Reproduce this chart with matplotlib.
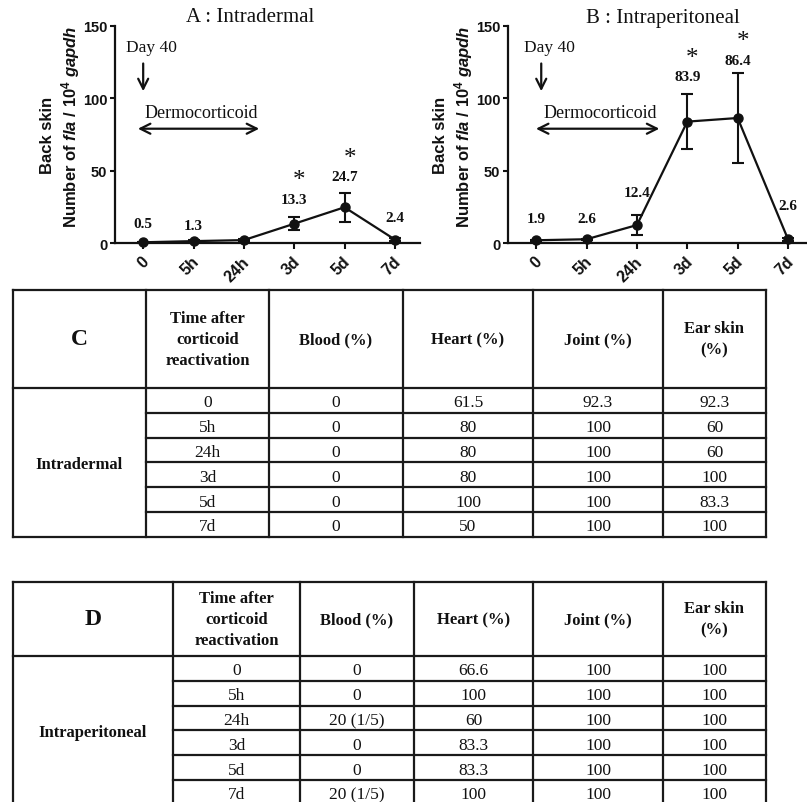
import matplotlib
matplotlib.use("Agg")
import matplotlib.pyplot as plt

# ---------------- data ----------------
time_labels = ["0", "5h", "24h", "3d", "5d", "7d"]

a_values = [0.5, 1.3, 2.0, 13.3, 24.7, 2.4]
a_errors = [0.3, 0.5, 0.8, 4.5, 10.0, 1.0]
a_value_text = ["0.5", "1.3", "", "13.3", "24.7", "2.4"]
a_signif = [False, False, False, True, True, False]

b_values = [1.9, 2.6, 12.4, 83.9, 86.4, 2.6]
b_errors = [0.5, 0.5, 7.0, 19.0, 31.0, 1.0]
b_value_text = ["1.9", "2.6", "12.4", "83.9", "86.4", "2.6"]
b_signif = [False, False, False, True, True, False]

yticks = [0, 50, 100, 150]

table_columns = ["Time after\ncorticoid\nreactivation", "Blood (%)", "Heart (%)",
                 "Joint (%)", "Ear skin\n(%)"]

c_blood = ["0", "0", "0", "0", "0", "0"]
c_heart = ["61.5", "80", "80", "80", "100", "50"]
c_joint = ["92.3", "100", "100", "100", "100", "100"]
c_ear = ["92.3", "60", "60", "100", "83.3", "100"]

d_blood = ["0", "0", "20 (1/5)", "0", "0", "20 (1/5)"]
d_heart = ["66.6", "100", "60", "83.3", "83.3", "100"]
d_joint = ["100", "100", "100", "100", "100", "100"]
d_ear = ["100", "100", "100", "100", "100", "100"]

# ---------------- style ----------------
plt.rcParams["mathtext.fontset"] = "custom"
plt.rcParams["mathtext.rm"] = "Liberation Sans:bold"
plt.rcParams["mathtext.it"] = "Liberation Sans:italic:bold"
plt.rcParams["mathtext.bf"] = "Liberation Sans:bold"

W, H = 807, 803
fig = plt.figure(figsize=(W / 100, H / 100), dpi=100)
SANS = "Liberation Sans"
SERIF = "Liberation Serif"
INK = "#111111"


def px_axes(left, top, right, bottom):
    return fig.add_axes([left / W, 1 - bottom / H, (right - left) / W, (bottom - top) / H])


def draw_chart(ax, values, errors, value_text, signif, title, label_dy,
               day_x, derm_x0, derm_x1, xmax, title_x):
    x = list(range(len(values)))
    ax.errorbar(x, values, yerr=errors, color=INK, lw=1.6, marker="o", ms=6.5,
                capsize=4.5, elinewidth=1.5, capthick=1.5, clip_on=False, zorder=3)
    ax.set_xlim(-0.56, xmax)
    ax.set_ylim(0, 150)
    ax.set_yticks(yticks)
    ax.set_xticks(x)
    ax.set_xticklabels([])
    for xi, lab in zip(x, time_labels):
        ax.annotate(lab, xy=(xi, 0), xycoords="data", xytext=(-1.5, -7.5),
                    textcoords="offset points", rotation=45, ha="right", va="top",
                    rotation_mode="anchor", fontsize=11.5, fontweight="bold",
                    family=SANS, color=INK)
    for lab in ax.get_yticklabels():
        lab.set_fontfamily(SANS)
        lab.set_fontweight("bold")
        lab.set_fontsize(10.5)
    ax.spines["top"].set_visible(False)
    ax.spines["right"].set_visible(False)
    for s in ("left", "bottom"):
        ax.spines[s].set_linewidth(1.6)
        ax.spines[s].set_color(INK)
    ax.tick_params(axis="y", length=3.5, width=1.5, pad=2, colors=INK)
    ax.tick_params(axis="x", length=4.5, width=1.5, colors=INK)

    for xi, v, e, t, s, dy in zip(x, values, errors, value_text, signif, label_dy):
        ly = v + e + dy
        if t:
            ax.text(xi, ly, t, ha="center", va="center", fontsize=11,
                    fontweight="bold", family=SERIF, color=INK)
        if s:
            ax.text(xi + 0.1, ly + 13, "*", ha="center", va="center", fontsize=18,
                    family=SERIF, color=INK)

    ax.text(day_x + 0.17, 135.5, "Day 40", ha="center", va="center", fontsize=12.5,
            family=SERIF, color=INK)
    ax.annotate("", xy=(day_x, 103), xytext=(day_x, 126),
                arrowprops=dict(arrowstyle="->", lw=1.6, color=INK, mutation_scale=18))
    ax.text((derm_x0 + derm_x1) / 2 + 0.05, 90.5, "Dermocorticoid", ha="center",
            va="center", fontsize=13, family=SERIF, color=INK)
    ax.annotate("", xy=(derm_x0, 79), xytext=(derm_x1, 79),
                arrowprops=dict(arrowstyle="<->", lw=1.6, color=INK, mutation_scale=18))
    fig.text(title_x / W, 1 - 18 / H, title, ha="center", va="center", fontsize=15,
             family=SERIF, color=INK)


def ylabels(xl1, xl2):
    fig.text(xl1 / W, 1 - 135 / H, "Back skin", rotation=90, ha="center", va="center",
             fontsize=12, fontweight="bold", family=SANS, color=INK)
    fig.text(xl2 / W, 1 - 127 / H, r"Number of $\it{fla}$ / 10$^{4}$ $\it{gapdh}$",
             rotation=90, ha="center", va="center", fontsize=12, fontweight="bold",
             family=SANS, color=INK)


axA = px_axes(115, 27, 420, 244)
draw_chart(axA, a_values, a_errors, a_value_text, a_signif, "A : Intradermal",
           [12.5, 10.5, 12, 12.5, 11, 14.5], 0.0, -0.16, 2.36, 5.5, 250)
ylabels(47, 71)

axB = px_axes(508, 27, 807, 244)
draw_chart(axB, b_values, b_errors, b_value_text, b_signif, "B : Intraperitoneal",
           [14.5, 14, 15.5, 12, 9, 22.5], 0.1, -0.06, 2.5, (807 - 536) / 50.4, 663)
ylabels(440, 464)

# ---------------- tables ----------------
tab = fig.add_axes([0, 0, 1, 1])
tab.set_xlim(0, W)
tab.set_ylim(H, 0)
tab.axis("off")


def draw_table(cols, top, head_bottom, row_h, letter, row_label, blood, heart, joint, ear):
    n = len(time_labels)
    rows = [head_bottom + row_h * i for i in range(n + 1)]
    bottom = rows[-1]
    kw = dict(color="#1a1a1a", lw=1.6, clip_on=False, solid_capstyle="projecting")
    tab.plot([cols[0], cols[-1]], [top, top], **kw)
    tab.plot([cols[0], cols[-1]], [head_bottom, head_bottom], **kw)
    tab.plot([cols[0], cols[-1]], [bottom, bottom], **kw)
    for r in rows[1:-1]:
        tab.plot([cols[1], cols[-1]], [r, r], **kw)
    for c in cols:
        tab.plot([c, c], [top, bottom], **kw)

    hy = (top + head_bottom) / 2
    tab.text((cols[0] + cols[1]) / 2, hy, letter, ha="center", va="center",
             fontsize=17, fontweight="bold", family=SERIF, color=INK)
    for j, name in enumerate(table_columns):
        tab.text((cols[j + 1] + cols[j + 2]) / 2, hy, name, ha="center", va="center",
                 fontsize=12, fontweight="bold", family=SERIF, color=INK,
                 linespacing=1.45)
    tab.text((cols[0] + cols[1]) / 2, (head_bottom + bottom) / 2 + 2, row_label,
             ha="center", va="center", fontsize=12, fontweight="bold", family=SERIF,
             color=INK)
    body = [time_labels, blood, heart, joint, ear]
    for i in range(n):
        cy = (rows[i] + rows[i + 1]) / 2 + 2
        for j, colvals in enumerate(body):
            tab.text((cols[j + 1] + cols[j + 2]) / 2, cy, colvals[i], ha="center",
                     va="center", fontsize=12.5, family=SERIF, color=INK)


draw_table([13, 146, 269, 403, 533, 663, 766], 291, 389, 24.8, "C", "Intradermal",
           c_blood, c_heart, c_joint, c_ear)
draw_table([13, 173, 300, 414, 533, 663, 766], 583, 657, 24.8, "D", "Intraperitoneal",
           d_blood, d_heart, d_joint, d_ear)

fig.savefig("out.png", dpi=100)
